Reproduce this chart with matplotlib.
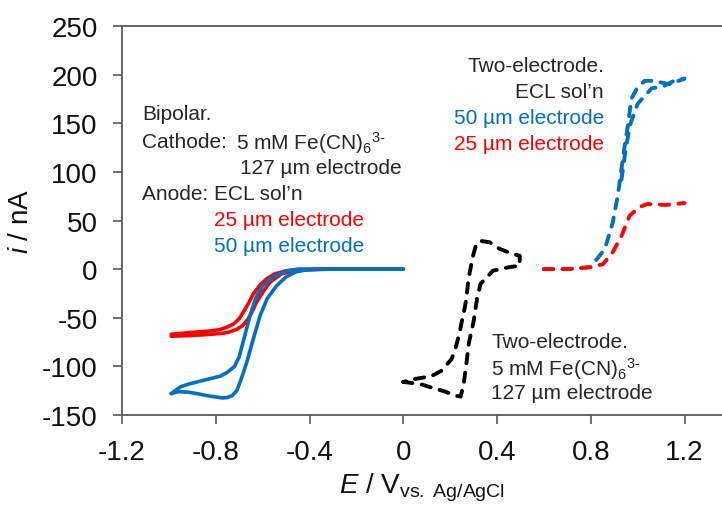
import matplotlib
matplotlib.use("Agg")
import matplotlib.pyplot as plt

plt.rcParams['font.family'] = ['Liberation Sans', 'DejaVu Sans']
plt.rcParams['mathtext.fontset'] = 'custom'
plt.rcParams['mathtext.rm'] = 'Liberation Sans'
plt.rcParams['mathtext.it'] = 'Liberation Sans:italic'

# ---- data ----
# Bipolar, 25 um (red solid): two scan branches
red_fwd_E = [-0.99, -0.9, -0.82, -0.78, -0.75, -0.725, -0.70, -0.683, -0.66, -0.64, -0.61, -0.583,
             -0.55, -0.5, -0.45, -0.3, 0.0]
red_fwd_i = [-67, -65, -63.5, -62, -59.5, -56.5, -51, -44.5, -35, -25.6, -16, -10,
             -5, -1.7, -0.5, 0, 0]
red_rev_E = [0.0, -0.3, -0.43, -0.47, -0.52, -0.569, -0.6, -0.626, -0.645, -0.661, -0.685,
             -0.711, -0.74, -0.77, -0.85, -0.93, -0.99]
red_rev_i = [0, 0, -0.6, -1.7, -5, -13.5, -24, -34, -44, -51, -58,
             -62, -64.5, -66, -67.5, -68.5, -69]

# Bipolar, 50 um (blue solid)
blue_fwd_E = [-0.99, -0.96, -0.92, -0.88, -0.84, -0.80, -0.77, -0.75, -0.73, -0.71, -0.69,
              -0.668, -0.64, -0.611, -0.58, -0.54, -0.50, -0.46, -0.42, -0.35, 0.0]
blue_fwd_i = [-128, -126, -126.5, -128, -130, -131.5, -132.5, -132, -130, -125, -112,
              -96, -72, -48, -30, -17, -8, -3, -1, 0, 0]
blue_rev_E = [0.0, -0.45, -0.5, -0.55, -0.6, -0.63, -0.654, -0.68, -0.70, -0.72, -0.75,
              -0.78, -0.83, -0.88, -0.92, -0.95, -0.97, -0.99]
blue_rev_i = [0, 0, -2, -7, -17, -30, -48, -72, -90, -100, -106,
              -110, -113, -116, -118.5, -121, -124.5, -128]

# Two-electrode, 5 mM Fe(CN)6 3-, 127 um (black dashed), one closed scan
fe_E = [0.0, 0.07, 0.11, 0.18, 0.22, 0.245, 0.258, 0.268, 0.28, 0.30, 0.315, 0.33, 0.35,
        0.383, 0.446, 0.497, 0.497, 0.469, 0.412, 0.369, 0.33, 0.312, 0.298, 0.284, 0.277,
        0.27, 0.263, 0.248, 0.241, 0.22, 0.206, 0.163, 0.12, 0.05, 0.0]
fe_i = [-116, -118, -121, -126, -130, -131, -118, -100, -76, -54, -30, -15, -10,
        -1.6, 1.8, 3.5, 13.8, 15.5, 20.7, 27.6, 29, 26, 14, -3, -13,
        -29, -39, -56, -65, -84, -92.5, -104.5, -110, -113, -116]

# Two-electrode, ECL sol'n, 50 um (blue dashed)
ecl50_E = [0.6, 0.7, 0.8, 0.825, 0.86, 0.894, 0.915, 0.931, 0.945, 0.958, 0.973, 0.995,
           1.03, 1.07, 1.137, 1.2, 1.15, 1.11, 1.06, 1.0, 0.97, 0.95, 0.93]
ecl50_i = [0, 0, 2, 10, 20.6, 48, 75, 103, 127, 147, 175, 185,
           193.6, 193.6, 190, 196, 193, 188, 186, 170, 150, 125, 90]

# Two-electrode, ECL sol'n, 25 um (red dashed)
ecl25_E = [0.6, 0.7, 0.796, 0.852, 0.894, 0.931, 0.966, 1.009, 1.043, 1.12, 1.2]
ecl25_i = [0, 0, 2, 5, 17.5, 34, 55, 64, 67, 66, 68]

x_ticks = [-1.2, -0.8, -0.4, 0, 0.4, 0.8, 1.2]
x_ticklabels = ['-1.2', '-0.8', '-0.4', '0', '0.4', '0.8', '1.2']
y_ticks = [-150, -100, -50, 0, 50, 100, 150, 200, 250]
y_ticklabels = ['-150', '-100', '-50', '0', '50', '100', '150', '200', '250']

RED = '#FF0000'
BLUE = '#0070C0'
TXT = '#262626'

fig = plt.figure(figsize=(7.22, 5.06), dpi=100)
ax = fig.add_axes([122/722, 90/506, 600/722, 389/506])

lw_s = 2.6
ax.plot(red_fwd_E, red_fwd_i, color=RED, lw=lw_s, solid_capstyle='round', solid_joinstyle='round')
ax.plot(red_rev_E, red_rev_i, color=RED, lw=lw_s, solid_capstyle='round', solid_joinstyle='round')
ax.plot(blue_fwd_E, blue_fwd_i, color=BLUE, lw=lw_s, solid_capstyle='round', solid_joinstyle='round')
ax.plot(blue_rev_E, blue_rev_i, color=BLUE, lw=lw_s, solid_capstyle='round', solid_joinstyle='round')

dash = (2.4, 2.4)
ax.plot(fe_E, fe_i, color='black', lw=2.8, dashes=dash, dash_capstyle='round')
ax.plot(ecl50_E, ecl50_i, color=BLUE, lw=2.8, dashes=dash, dash_capstyle='round')
ax.plot(ecl25_E, ecl25_i, color=RED, lw=2.8, dashes=dash, dash_capstyle='round')

ax.set_xlim(-1.2, 1.36)
ax.set_ylim(-150, 250)
ax.set_xticks(x_ticks)
ax.set_xticklabels(x_ticklabels)
ax.set_yticks(y_ticks)
ax.set_yticklabels(y_ticklabels)

for s in ['left', 'bottom', 'top']:
    ax.spines[s].set_color('#595959')
    ax.spines[s].set_linewidth(1.3)
ax.spines['right'].set_visible(False)
ax.tick_params(axis='both', direction='out', length=6.5, width=1.2, color='#595959',
               labelsize=20, labelcolor='#111111')
ax.tick_params(axis='y', pad=11)
ax.tick_params(axis='x', pad=11)

ax.set_ylabel('$i$ / nA', fontsize=20, color='#111111', labelpad=6)
ax.set_xlabel(r'$E$ / V$_{\mathregular{vs.\ Ag/AgCl}}$', fontsize=20, color='#111111', labelpad=4)

fs = 15
def fx(px):
    return (px - 122) / 600
def fy(py):
    return (416 - py) / 389

def t(px, py, s, color=TXT, ha='left'):
    ax.text(fx(px), fy(py), s, transform=ax.transAxes, fontsize=fs, color=color,
            va='center_baseline', ha=ha)

FE = r'5 mM Fe(CN)$_6{}^{\text{3-}}$'

# Bipolar block
t(142, 113, 'Bipolar.')
t(142, 140, 'Cathode:')
t(236, 140, FE)
t(240, 166, '127 µm electrode')
t(142, 193, 'Anode: ECL sol’n')
t(214, 219, '25 µm electrode', RED)
t(214, 245, '50 µm electrode', BLUE)

# Two-electrode ECL block (right aligned)
t(604, 64, 'Two-electrode.', ha='right')
t(604, 90, 'ECL sol’n', ha='right')
t(604, 116, '50 µm electrode', BLUE, ha='right')
t(604, 142, '25 µm electrode', RED, ha='right')

# Two-electrode Fe(CN)6 block
t(491, 340, 'Two-electrode.')
t(491, 366, FE)
t(491, 392, '127 µm electrode')

fig.savefig('out.png', dpi=100)
